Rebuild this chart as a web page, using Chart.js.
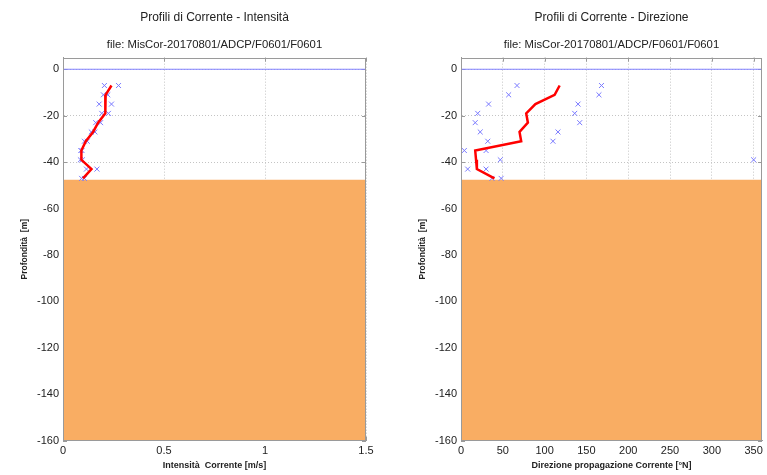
<!DOCTYPE html>
<html>
<head>
<meta charset="utf-8">
<script src="https://cdn.jsdelivr.net/npm/chart.js@4"></script>
<style>
  html, body { margin: 0; padding: 0; background: #fff; }
  body { width: 767px; height: 475px; position: relative; overflow: hidden; }
  canvas { position: absolute; top: 0; }
  #c1 { left: 0; }
  #c2 { left: 398px; }
</style>
</head>
<body>
<canvas id="c1" width="383" height="475"></canvas>
<canvas id="c2" width="369" height="475"></canvas>
<script>
// ---- data ----
const depths = [-7, -11, -15, -19, -23, -27, -31, -35, -39, -43, -47];
const speedMean = [0.240, 0.211, 0.210, 0.209, 0.174, 0.149, 0.113, 0.091, 0.091, 0.141, 0.099];
const speedA = [0.205, 0.200, 0.179, 0.192, 0.162, 0.140, 0.120, 0.094, 0.086, 0.116, 0.092];
const speedB = [0.275, 0.222, 0.240, 0.225, 0.186, 0.158, 0.106, 0.088, 0.096, 0.168, 0.106];
const dirMean = [118, 112, 89, 78, 80, 70, 72, 17, 18, 19, 40];
const dirA = [67, 57, 33, 20, 17, 23, 32, 4, 47, 8, 37];
const dirB = [168, 165, 140, 136, 142, 116, 110, 30, 350, 30, 48];
const seabedDepth = -47.6;
const surfaceDepth = 0;
const depthTicks = [0, -20, -40, -60, -80, -100, -120, -140, -160];
const speedTicks = [0, 0.5, 1, 1.5];
const dirTicks = [0, 50, 100, 150, 200, 250, 300, 350];
const depthRange = [-160, 5];
const speedRange = [0, 1.5];
const dirRange = [0, 360];
const titleSpeed = 'Profili di Corrente - Intensità';
const titleDir = 'Profili di Corrente - Direzione';
const subtitleText = 'file: MisCor-20170801/ADCP/F0601/F0601';
const xLabelSpeed = 'Intensità  Corrente [m/s]';
const xLabelDir = 'Direzione propagazione Corrente [°N]';
const yLabel = 'Profondità  [m]';

// ---- style ----
const FONT = "'Liberation Sans', Arial, sans-serif";
const ORANGE = '#F9AD63';
const BLUE = '#8282ff';
const CROSS = '#7a7aff';
const BOXC = '#9a9a9a';
const GRIDC = '#c4c4c4';

const boxPlugin = {
  id: 'box',
  beforeDatasetsDraw(chart) {
    const {ctx, chartArea: a, scales} = chart;
    ctx.save();
    ctx.strokeStyle = BOXC;
    ctx.lineWidth = 1;
    ctx.beginPath();
    scales.y.ticks.forEach(t => {
      const p = Math.round(scales.y.getPixelForValue(t.value)) + 0.5;
      ctx.moveTo(a.left, p); ctx.lineTo(a.left + 4, p);
      ctx.moveTo(a.right, p); ctx.lineTo(a.right - 4, p);
    });
    scales.x.ticks.forEach(t => {
      const p = Math.round(scales.x.getPixelForValue(t.value)) + 0.5;
      ctx.moveTo(p, a.top); ctx.lineTo(p, a.top + 4);
      ctx.moveTo(p, a.bottom); ctx.lineTo(p, a.bottom - 4);
    });
    ctx.stroke();
    ctx.restore();
  },
  afterDatasetsDraw(chart) {
    const {ctx, chartArea: a} = chart;
    ctx.save();
    ctx.strokeStyle = BOXC;
    ctx.lineWidth = 1;
    ctx.strokeRect(Math.round(a.left) + 0.5, Math.round(a.top) + 0.5,
                   Math.round(a.right - a.left) - 1, Math.round(a.bottom - a.top) - 1);
    ctx.restore();
  }
};

function makeChart(id, o) {
  const pts = (xs) => xs.map((v, i) => ({x: v, y: depths[i]}));
  return new Chart(document.getElementById(id), {
    type: 'scatter',
    data: {
      datasets: [
        { type: 'line', label: 'media', data: pts(o.mean), borderColor: '#ff0000',
          borderWidth: 2.5, pointRadius: 0, tension: 0, fill: false, order: 0 },
        { type: 'scatter', label: 'misure', data: pts(o.a).concat(pts(o.b)),
          pointStyle: 'crossRot', pointRadius: 3.5, borderColor: CROSS, backgroundColor: CROSS,
          borderWidth: 1, order: 1 },
        { type: 'line', label: 'superficie',
          data: [{x: o.range[0], y: surfaceDepth}, {x: o.range[1], y: surfaceDepth}],
          borderColor: BLUE, borderWidth: 1.2, pointRadius: 0, fill: false, order: 2 },
        { type: 'line', label: 'fondale',
          data: [{x: o.range[0], y: seabedDepth}, {x: o.range[1], y: seabedDepth}],
          borderColor: ORANGE, borderWidth: 0, backgroundColor: ORANGE, pointRadius: 0,
          fill: 'start', order: 3 }
      ]
    },
    options: {
      responsive: false,
      animation: false,
      devicePixelRatio: 1,
      layout: { padding: { left: 0, right: o.padRight, top: 0, bottom: 0 } },
      plugins: {
        legend: { display: false },
        tooltip: { enabled: false },
        title: {
          display: true, text: o.title, fullSize: false, color: '#222',
          font: { family: FONT, size: 12, weight: 'normal' },
          padding: { top: 10.3, bottom: 0 }
        },
        subtitle: {
          display: true, text: subtitleText, fullSize: false, color: '#222',
          font: { family: FONT, size: 11.3, weight: 'normal' },
          padding: { top: 13, bottom: 6.4 }
        }
      },
      scales: {
        x: {
          type: 'linear', min: o.range[0], max: o.range[1],
          afterBuildTicks: s => { s.ticks = o.ticks.map(v => ({value: v})); },
          afterFit: s => { s.height = 34.3; },
          ticks: { color: '#222', font: { family: FONT, size: 11 }, padding: 4,
                   maxRotation: 0, autoSkip: false, callback: v => String(v) },
          grid: { color: GRIDC, drawTicks: false, lineWidth: 1 },
          border: { display: true, color: BOXC, dash: [1, 2] },
          title: { display: true, text: o.xLabel, color: '#222',
                   font: { family: FONT, size: 9, weight: 'bold' }, padding: { top: 0, bottom: 3.6 } }
        },
        y: {
          type: 'linear', min: depthRange[0], max: depthRange[1],
          afterBuildTicks: s => { s.ticks = depthTicks.map(v => ({value: v})); },
          afterFit: s => { s.width = 63; },
          ticks: { color: '#222', font: { family: FONT, size: 11 }, padding: 4, autoSkip: false,
                   callback: v => String(v) },
          grid: { color: GRIDC, drawTicks: false, lineWidth: 1 },
          border: { display: true, color: BOXC, dash: [1, 2] },
          title: { display: true, text: yLabel, color: '#222',
                   font: { family: FONT, size: 8.5, weight: 'bold' }, padding: { top: 19.9, bottom: 0 } }
        }
      }
    },
    plugins: [boxPlugin]
  });
}

makeChart('c1', { title: titleSpeed, xLabel: xLabelSpeed, mean: speedMean, a: speedA, b: speedB,
                  range: speedRange, ticks: speedTicks, padRight: 17 });
makeChart('c2', { title: titleDir, xLabel: xLabelDir, mean: dirMean, a: dirA, b: dirB,
                  range: dirRange, ticks: dirTicks, padRight: 2 });
</script>
</body>
</html>
